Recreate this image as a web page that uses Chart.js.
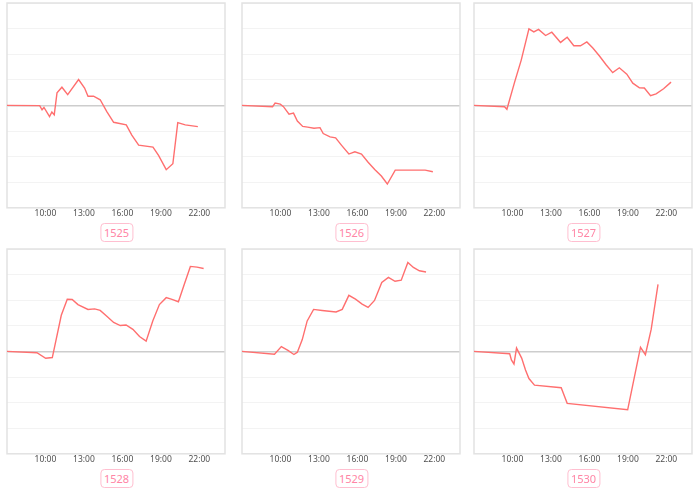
<!DOCTYPE html>
<html>
<head>
<meta charset="utf-8">
<script src="https://cdn.jsdelivr.net/npm/chart.js@4.4.1/dist/chart.umd.min.js"></script>
<style>
  body { margin: 0; background: #fff; width: 700px; height: 493px; overflow: hidden; position: relative; font-family: "Noto Sans", sans-serif; }
  .card { position: absolute; width: 233px; height: 246px; }
  .card canvas { display: block; }
  .tag { position: absolute; left: 50%; transform: translateX(-50%); top: 223px; border: 1px solid #ffbfd0; border-radius: 4px; color: #ff85a5; font-size: 11px; line-height: 17px; padding: 0 3px; }
</style>
</head>
<body>
<div id="grid"></div>
<script>
// stock codes shown under each chart
const codes = ['1525', '1526', '1527', '1528', '1529', '1530'];

// x axis tick labels (hours)
const hourTicks = [10, 13, 16, 19, 22];

// intraday change, time of each point and value
const times1525 = ['07:00','09:33','09:44','09:53','10:19','10:30','10:41','10:54','11:17','11:44','12:35','13:03','13:19','13:45','14:16','14:47','15:19','16:18','16:44','17:16','18:23','18:49','19:25','19:56','20:19','20:54','21:53'];
const values1525 = [0, -0.01, -0.17, -0.08, -0.44, -0.26, -0.37, 0.49, 0.71, 0.42, 1.01, 0.68, 0.36, 0.36, 0.22, -0.24, -0.66, -0.76, -1.16, -1.55, -1.63, -1.95, -2.51, -2.28, -0.67, -0.76, -0.83];

const times1526 = ['07:00','09:23','09:35','09:59','10:14','10:40','11:01','11:19','11:44','12:07','12:37','13:05','13:20','13:52','14:18','14:46','15:20','15:48','16:19','16:50','17:21','17:52','18:20','18:57','20:12','21:17','21:53'];
const values1526 = [0, -0.05, 0.09, 0.05, -0.05, -0.34, -0.30, -0.61, -0.82, -0.85, -0.89, -0.87, -1.10, -1.23, -1.27, -1.56, -1.90, -1.81, -1.90, -2.22, -2.50, -2.76, -3.07, -2.53, -2.53, -2.53, -2.59];

const times1527 = ['07:00','09:23','09:34','10:10','10:41','11:17','11:40','12:02','12:35','13:04','13:45','14:16','14:47','15:18','15:48','16:16','16:47','17:19','17:49','18:20','18:55','19:23','19:54','20:17','20:46','21:12','21:47','22:22'];
const values1527 = [0, -0.05, -0.15, 0.91, 1.77, 2.99, 2.87, 2.97, 2.73, 2.86, 2.46, 2.66, 2.33, 2.33, 2.48, 2.24, 1.93, 1.58, 1.28, 1.47, 1.22, 0.87, 0.69, 0.68, 0.38, 0.45, 0.65, 0.91];

const times1528 = ['07:00','09:20','10:01','10:32','11:14','11:42','12:05','12:32','13:19','13:50','14:16','14:47','15:19','15:50','16:17','16:49','17:20','17:51','18:22','18:53','19:25','19:52','20:22','20:50','21:18','21:49','22:20'];
const values1528 = [0, -0.05, -0.27, -0.24, 1.41, 2.04, 2.03, 1.83, 1.64, 1.66, 1.60, 1.37, 1.13, 1.01, 1.03, 0.86, 0.58, 0.40, 1.19, 1.83, 2.10, 2.03, 1.94, 2.63, 3.32, 3.29, 3.24];

const times1529 = ['07:00','09:32','10:04','10:35','11:03','11:19','11:42','12:05','12:35','13:15','14:20','14:49','15:20','15:51','16:22','16:50','17:20','17:54','18:25','18:56','19:25','19:56','20:22','20:50','21:21'];
const values1529 = [0, -0.11, 0.19, 0.04, -0.12, -0.03, 0.46, 1.19, 1.64, 1.60, 1.54, 1.64, 2.19, 2.04, 1.85, 1.72, 1.99, 2.69, 2.89, 2.74, 2.78, 3.47, 3.28, 3.15, 3.10];

const times1530 = ['07:00','09:47','09:55','10:07','10:19','10:43','11:01','11:17','11:43','13:48','14:16','18:59','19:59','20:22','20:49','21:21'];
const values1530 = [0, -0.09, -0.33, -0.49, 0.13, -0.26, -0.73, -1.06, -1.32, -1.42, -2.03, -2.28, 0.16, -0.13, 0.86, 2.62];

const allTimes = [times1525, times1526, times1527, times1528, times1529, times1530];
const allValues = [values1525, values1526, values1527, values1528, values1529, values1530];

// card placement on the page
const cardLeft = [0, 235, 467];
const cardTop = [0, 246];

function toHours(t) {
    const p = t.split(':');
    return Number(p[0]) + Number(p[1]) / 60;
}

// light frame round the plot area
const framePlugin = {
    id: 'frame',
    beforeDatasetsDraw(chart) {
        const a = chart.chartArea;
        const c = chart.ctx;
        c.save();
        c.strokeStyle = '#e2e2e2';
        c.lineWidth = 1.5;
        c.strokeRect(a.left, a.top, a.right - a.left, a.bottom - a.top);
        c.restore();
    }
};

const host = document.getElementById('grid');

codes.forEach((code, i) => {
    const card = document.createElement('div');
    card.className = 'card';
    card.style.left = cardLeft[i % 3] + 'px';
    card.style.top = cardTop[Math.floor(i / 3)] + 'px';
    const canvas = document.createElement('canvas');
    canvas.width = 233;
    canvas.height = 220;
    card.appendChild(canvas);
    const tag = document.createElement('div');
    tag.className = 'tag';
    tag.textContent = code;
    card.appendChild(tag);
    host.appendChild(card);

    const points = allTimes[i].map((t, k) => ({ x: toHours(t), y: allValues[i][k] }));

    new Chart(canvas.getContext('2d'), {
        type: 'line',
        data: {
            datasets: [{
                data: points,
                borderColor: '#ff6f6f',
                borderWidth: 1.4,
                pointRadius: 0,
                tension: 0,
                fill: false,
            }],
        },
        options: {
            responsive: false,
            animation: false,
            layout: { padding: { left: 7, right: 8, top: 3, bottom: 0 } },
            plugins: {
                legend: { display: false },
                tooltip: { enabled: false },
            },
            scales: {
                x: {
                    type: 'linear',
                    min: 7,
                    max: 24,
                    afterBuildTicks: (axis) => { axis.ticks = hourTicks.map(v => ({ value: v })); },
                    grid: { display: false, drawTicks: false },
                    border: { display: false },
                    ticks: {
                        padding: 1,
                        maxRotation: 0,
                        color: '#505050',
                        font: { family: 'Noto Sans', size: 8.5 },
                        callback: (v) => v + ':00',
                    },
                },
                y: {
                    min: -4,
                    max: 4,
                    ticks: { display: false, stepSize: 1 },
                    grid: {
                        drawTicks: false,
                        color: (ctx) => ctx.tick && ctx.tick.value === 0 ? '#cdcdcd' : '#f3f3f3',
                        lineWidth: (ctx) => ctx.tick && ctx.tick.value === 0 ? 1.6 : 1,
                    },
                    border: { display: false },
                },
            },
        },
        plugins: [framePlugin],
    });
});
</script>
</body>
</html>
